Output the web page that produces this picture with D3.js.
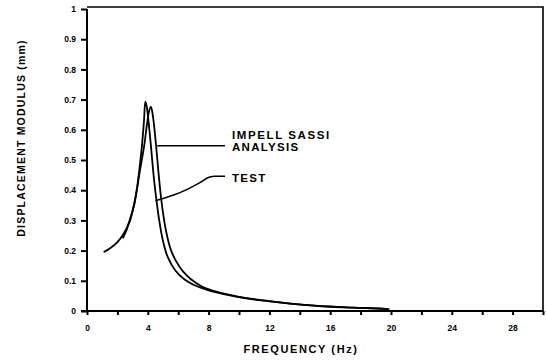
<!DOCTYPE html>
<html>
<head>
<meta charset="utf-8">
<script src="https://cdn.jsdelivr.net/npm/d3@7"></script>
<style>
  body { margin: 0; background: #fff; }
  text { font-family: "Liberation Sans", Arial, sans-serif; font-weight: bold; fill: #000; }
</style>
</head>
<body>
<div id="chart"></div>
<script>
// Test curve: [frequency (Hz), displacement modulus (mm)]
const testCurve = [
  [1.1, 0.195], [1.5, 0.207], [2.0, 0.228], [2.4, 0.255], [2.8, 0.295],
  [3.1, 0.355], [3.3, 0.41], [3.45, 0.47], [3.62, 0.55], [3.75, 0.63],
  [3.84, 0.693], [3.92, 0.68], [4.0, 0.65], [4.2, 0.55], [4.4, 0.44],
  [4.6, 0.355], [4.8, 0.285], [5.0, 0.232], [5.3, 0.18], [5.8, 0.135],
  [6.4, 0.105], [7.0, 0.087], [7.9, 0.07], [9.0, 0.056], [10.8, 0.039],
  [12.0, 0.032], [14.0, 0.021], [16.0, 0.014], [17.5, 0.011], [19.5, 0.008],
  [19.8, 0.006]
];

// Impell SASSI analysis curve
const analysisCurve = [
  [2.35, 0.241], [2.6, 0.268], [2.8, 0.30], [3.1, 0.35], [3.45, 0.455],
  [3.77, 0.55], [3.95, 0.62], [4.1, 0.665], [4.21, 0.676], [4.35, 0.64],
  [4.54, 0.55], [4.7, 0.46], [4.85, 0.385], [5.0, 0.325], [5.2, 0.265],
  [5.5, 0.205], [5.86, 0.165], [6.3, 0.132], [6.84, 0.105], [7.5, 0.083],
  [8.5, 0.064], [10.0, 0.047], [12.0, 0.033], [14.0, 0.022], [16.0, 0.015],
  [17.5, 0.011], [19.5, 0.007], [19.9, 0.005]
];

const xTicks = d3.range(0, 31, 2);
const xLabels = [0, 4, 8, 12, 16, 20, 24, 28];
const yTicks = d3.range(0, 1.01, 0.1);

// label leader lines, in data units
const analysisLeader = [[4.62, 0.547], [9.08, 0.547]];
const testLeader = [[4.5, 0.365], [5.7, 0.384], [6.56, 0.402], [7.43, 0.425], [7.98, 0.442], [8.4, 0.446], [9.08, 0.446]];

const width = 546, height = 364;
const x = d3.scaleLinear().domain([0, 30]).range([87, 543]);
const y = d3.scaleLinear().domain([0, 1]).range([311, 9]);

const svg = d3.select("#chart").append("svg")
  .attr("width", width)
  .attr("height", height);

// frame: top and right edges
svg.append("path")
  .attr("d", `M${x(0)},${y(1) - 2}H${x(30)}V${y(0)}`)
  .attr("fill", "none")
  .attr("stroke", "#000")
  .attr("stroke-width", 1.6);

// Y axis
const yAxis = svg.append("g")
  .attr("transform", `translate(${x(0)},0)`)
  .call(d3.axisLeft(y).tickValues(yTicks).tickSize(6).tickPadding(5)
    .tickFormat(d => d === 0 ? "0" : d >= 0.999 ? "1" : d3.format(".1f")(d)));
yAxis.selectAll("path, line").attr("stroke", "#000").attr("stroke-width", 2);
yAxis.select(".domain").attr("d", `M0,${y(1)}V${y(0)}`);
yAxis.selectAll("text").style("font-size", "8.5px").style("font-family", null);

// X axis
const xAxis = svg.append("g")
  .attr("transform", `translate(0,${y(0)})`)
  .call(d3.axisBottom(x).tickValues(xTicks).tickSize(4).tickPadding(10)
    .tickFormat(d => xLabels.includes(d) ? d : ""));
xAxis.selectAll("path, line").attr("stroke", "#000").attr("stroke-width", 2);
xAxis.select(".domain").attr("d", `M${x(0) - 6},0H${x(30)}`);
xAxis.selectAll("text").style("font-size", "8.5px").style("font-family", null);

// Axis titles
svg.append("text")
  .attr("transform", `translate(25,138) rotate(-90)`)
  .attr("text-anchor", "middle")
  .style("font-size", "10.5px")
  .style("letter-spacing", "1.2px")
  .text("DISPLACEMENT MODULUS (mm)");

svg.append("text")
  .attr("x", 301)
  .attr("y", 353)
  .attr("text-anchor", "middle")
  .style("font-size", "11px")
  .style("letter-spacing", "1.6px")
  .text("FREQUENCY (Hz)");

// Curves
const line = d3.line()
  .x(d => x(d[0]))
  .y(d => y(d[1]))
  .curve(d3.curveCatmullRom.alpha(0.5));

[testCurve, analysisCurve].forEach(c => {
  svg.append("path")
    .datum(c)
    .attr("d", line)
    .attr("fill", "none")
    .attr("stroke", "#000")
    .attr("stroke-width", 1.8)
    .attr("stroke-linejoin", "round");
});

// Leaders and labels
[analysisLeader, testLeader].forEach(l => {
  svg.append("path")
    .datum(l)
    .attr("d", line)
    .attr("fill", "none")
    .attr("stroke", "#000")
    .attr("stroke-width", 1.5);
});

const labels = [
  { text: "IMPELL SASSI", f: 9.54, v: 0.568, ls: 1.6 },
  { text: "ANALYSIS", f: 9.54, v: 0.531, ls: 1.3 },
  { text: "TEST", f: 9.54, v: 0.427, ls: 1.3 }
];
svg.selectAll(".lbl")
  .data(labels)
  .enter()
  .append("text")
  .attr("class", "lbl")
  .attr("x", d => x(d.f))
  .attr("y", d => y(d.v))
  .style("font-size", "11.5px")
  .style("letter-spacing", d => d.ls + "px")
  .text(d => d.text);
</script>
</body>
</html>
